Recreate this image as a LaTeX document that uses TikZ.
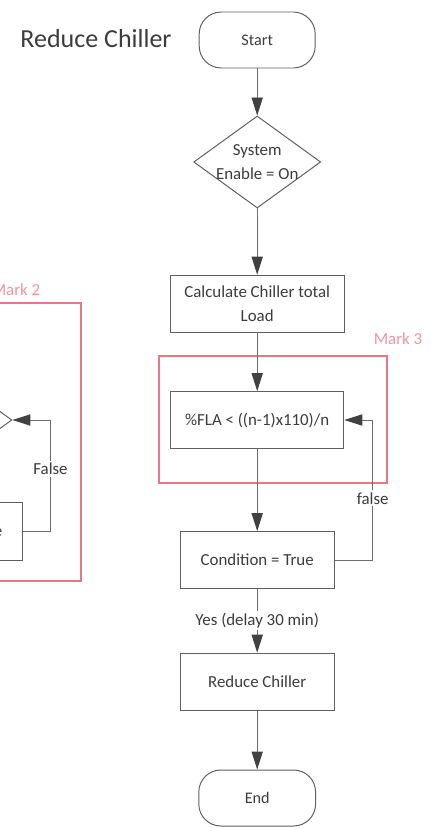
\documentclass[tikz,border=0pt]{standalone}
\usepackage{fontspec}
\setmainfont{Carlito}
\usetikzlibrary{shapes.geometric,arrows.meta}

\definecolor{linegray}{RGB}{110,110,110}
\definecolor{boxgray}{RGB}{95,95,95}
\definecolor{tipgray}{RGB}{65,65,65}
\definecolor{textgray}{RGB}{60,60,60}
\definecolor{markred}{RGB}{232,120,135}
\definecolor{marktext}{RGB}{238,150,160}

\begin{document}
\begin{tikzpicture}[
  terminal/.style={draw=boxgray, line width=0.7pt, rounded corners=5.5mm, minimum width=2.9cm, minimum height=1.4cm, text=textgray, font=\fontsize{11.5}{14}\selectfont},
  decision/.style={draw=boxgray, line width=0.7pt, diamond, inner sep=0pt, minimum width=3.175cm, minimum height=2.3cm, align=center, text=textgray, font=\fontsize{12}{17.5}\selectfont},
  process/.style={draw=boxgray, line width=0.7pt, minimum height=1.42cm, align=center, text=textgray, font=\fontsize{12}{17.5}\selectfont},
  markbox/.style={draw=markred, line width=0.8pt},
  marklabel/.style={text=marktext, font=\fontsize{12}{14}\selectfont},
  edgelabel/.style={fill=white, inner sep=1.5pt, text=textgray, font=\fontsize{12}{14}\selectfont},
  arrow/.style={draw=linegray, line width=0.7pt, -{Triangle[length=4.5mm, width=2.8mm, color=tipgray]}}
]
  \useasboundingbox (0,0) rectangle (10.775,-20.7);
  \clip (0,0) rectangle (10.775,-20.7);

  % Title
  \node[text=textgray, font=\fontsize{18.5}{22}\selectfont] (title) at (2.4,-0.97) {Reduce Chiller};

  % Main flow
  \node[terminal] (start) at (6.43,-1.0) {Start};
  \node[decision] (enable) at (6.43,-4.05) {\makebox[0pt]{System}\\\makebox[0pt]{Enable = On}};
  \node[process, minimum width=4.35cm] (calc) at (6.43,-7.59) {Calculate Chiller total\\Load};
  \node[process, minimum width=4.33cm] (fla) at (6.43,-10.5) {\%FLA < ((n-1)x110)/n};
  \node[process, minimum width=3.85cm] (cond) at (6.43,-14.0) {Condition = True};
  \node[process, minimum width=3.85cm] (reduce) at (6.43,-17.04) {Reduce Chiller};
  \node[terminal, minimum width=2.92cm] (end) at (6.43,-19.95) {End};

  % Mark 3
  \draw[markbox] (3.975,-8.9) rectangle (9.675,-12.075);
  \node[marklabel, anchor=east] (mark3) at (10.68,-8.47) {Mark 3};

  % Mark 2 (left part)
  \node[decision] (check2) at (-1.29,-10.5) {};
  \node[process, minimum width=3.85cm, minimum height=1.45cm] (cond2) at (-1.355,-13.275) {Condition = True};
  \draw[markbox] (-3,-7.575) rectangle (2.025,-14.525);
  \node[marklabel, anchor=east] (mark2) at (1.13,-7.25) {Mark 2};

  % Arrows
  \draw[arrow] (start) -- (enable);
  \draw[arrow] (enable) -- (calc);
  \draw[arrow] (calc) -- (fla);
  \draw[arrow] (fla) -- (cond);
  \draw[arrow] (cond) -- node[edgelabel] {Yes (delay 30 min)} (reduce);
  \draw[arrow] (reduce) -- (end);
  \draw[arrow] (cond.east) -- ++(0.95,0) |- node[edgelabel, pos=0.22] {false} (fla.east);
  \draw[arrow] (cond2.east) -- ++(0.68,0) |- node[edgelabel, pos=0.28] {False} (check2.east);
\end{tikzpicture}
\end{document}
